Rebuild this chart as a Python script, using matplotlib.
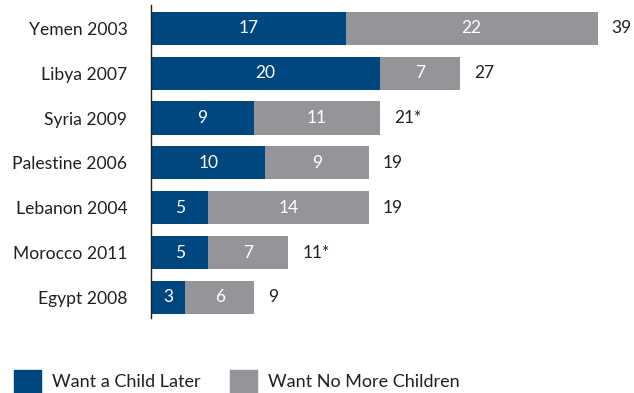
import matplotlib.pyplot as plt
from matplotlib.patches import Rectangle

# Data (top to bottom)
countries = ["Yemen 2003", "Libya 2007", "Syria 2009", "Palestine 2006",
             "Lebanon 2004", "Morocco 2011", "Egypt 2008"]
child_later = [17, 20, 9, 10, 5, 5, 3]
no_more = [22, 7, 11, 9, 14, 7, 6]
totals = ["39", "27", "21*", "19", "19", "11*", "9"]
legend_labels = ["Want a Child Later", "Want No More Children"]

blue = "#00467f"
grey = "#939598"
dark = "#231f20"

plt.rcParams['font.family'] = ['Lato', 'DejaVu Sans']

W, H = 634, 393
fig = plt.figure(figsize=(W / 100, H / 100), dpi=100)
# axis spans x 151..617 px, y 5..318 px
ax = fig.add_axes([151 / W, 1 - 318 / H, 466 / W, 313 / H])

n = len(countries)
ypos = list(range(n))
ax.barh(ypos, child_later, height=0.74, color=blue)
ax.barh(ypos, no_more, left=child_later, height=0.74, color=grey)

for i in range(n):
    ax.text(child_later[i] / 2, i, str(child_later[i]), ha="center", va="center",
            color="white", fontsize=12.5)
    ax.text(child_later[i] + no_more[i] / 2, i, str(no_more[i]), ha="center",
            va="center", color="white", fontsize=12.5)
    end = child_later[i] + no_more[i]
    ax.annotate(totals[i], (end, i), xytext=(10, 0),
                textcoords="offset points", ha="left", va="center",
                color=dark, fontsize=12.5, annotation_clip=False)

ax.set_xlim(0, 40.7)
ax.set_ylim(n - 1 + 0.46, -0.52)
ax.set_yticks(ypos)
ax.set_yticklabels(countries, fontsize=12.6, color=dark)
ax.tick_params(axis="y", length=0, pad=17)
ax.set_xticks([])
for s in ["top", "right", "bottom"]:
    ax.spines[s].set_visible(False)
ax.spines["left"].set_color(dark)
ax.spines["left"].set_linewidth(1.0)

# legend drawn by hand
for x0, col, lab in [(14, blue, legend_labels[0]), (230, grey, legend_labels[1])]:
    fig.add_artist(Rectangle((x0 / W, 1 - 397 / H), 27 / W, 27 / H,
                             transform=fig.transFigure, color=col))
    fig.text((x0 + 38) / W, 1 - 382 / H, lab, ha="left", va="center",
             color=dark, fontsize=13)

fig.savefig("out.png", dpi=100)
